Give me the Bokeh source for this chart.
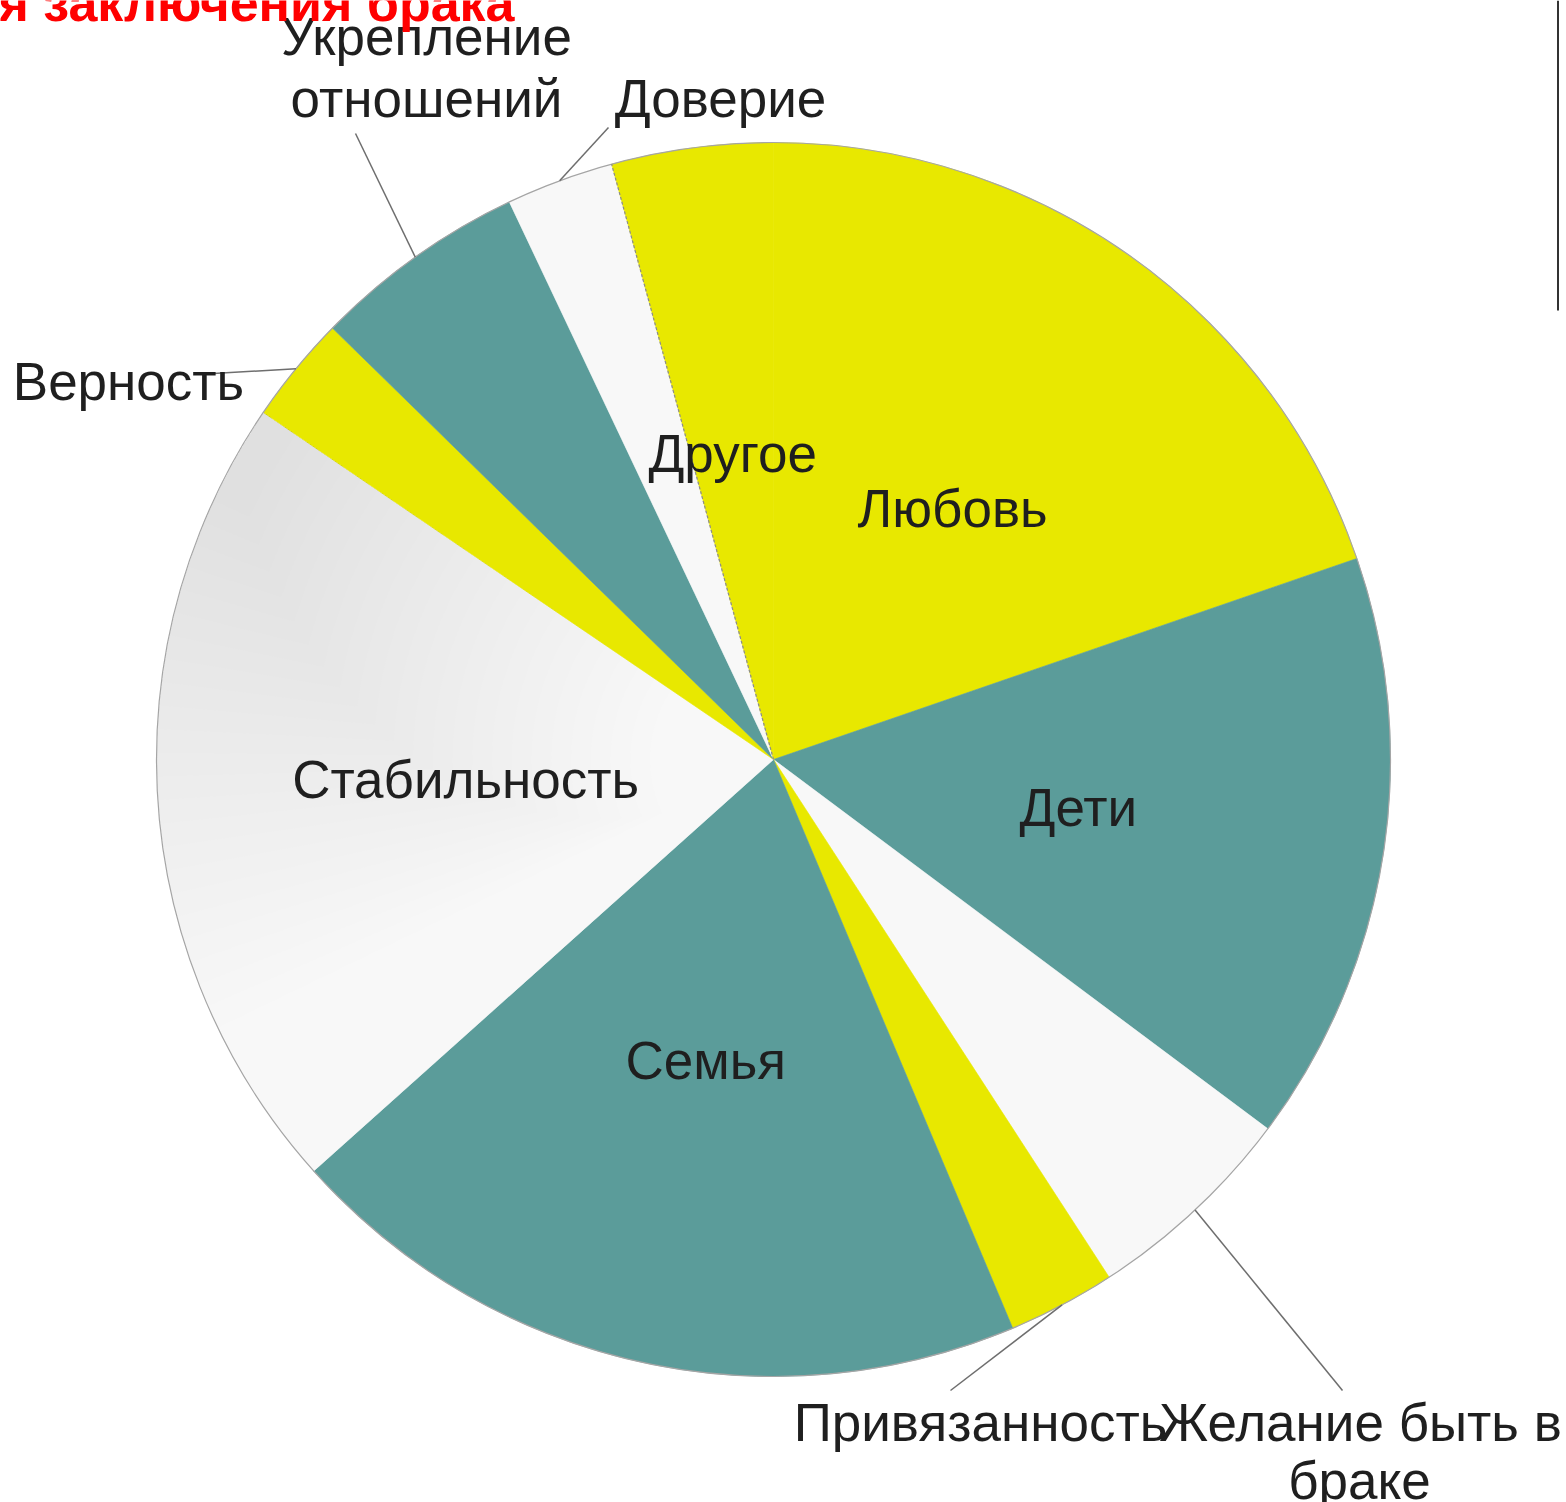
import math
from bokeh.plotting import figure
from bokeh.models import Range1d, ColumnDataSource
from bokeh.core.properties import value
from bokeh.embed import file_html
from bokeh.resources import INLINE

# ---------------- data ----------------
categories = ["Любовь", "Дети", "Желание быть в браке", "Привязанность", "Семья",
              "Стабильность", "Верность", "Укрепление отношений", "Доверие", "Другое"]
values = [14, 11, 4, 2, 14, 15, 2, 4, 2, 3]
title_text = "я заключения брака"

# ---------------- style / layout ----------------
palette = ["#E8E800", "#5B9C9A", "#F8F8F8"]   # yellow, teal, white (cycled)
FONT = value("Liberation Sans")
W, H = 1566, 1502
def Y(sy):            # screen y -> data y
    return H - sy

CX, CY = 773, Y(759)
R = 617
FS = "53px"
YOFF = -19            # text rendering correction (px)

# labels drawn inside the slice (at half radius along the mid angle)
inside = {"Любовь", "Дети", "Семья", "Стабильность", "Другое"}
# outside labels: list of (text line, x centre, baseline screen y)
outside_labels = {
    "Желание быть в браке": [("Желание быть в", 1360, 1441), ("браке", 1359, 1499)],
    "Привязанность": [("Привязанность", 980, 1441)],
    "Верность": [("Верность", 128, 400)],
    "Укрепление отношений": [("Укрепление", 426, 55), ("отношений", 426, 117)],
    "Доверие": [("Доверие", 720, 117)],
}
# leader line end points (screen coords)
leader_end = {
    "Желание быть в браке": (1342, 1390),
    "Привязанность": (950, 1390),
    "Верность": (213, 373),
    "Укрепление отношений": (355, 133),
    "Доверие": (608, 127),
}

# ---------------- geometry from data ----------------
total = float(sum(values))
starts, ends, mids = [], [], []
acc = 0.0
for v in values:
    a1 = acc / total * 360.0
    acc += v
    a2 = acc / total * 360.0
    starts.append(math.radians(90 - a1))
    ends.append(math.radians(90 - a2))
    mids.append((a1 + a2) / 2.0)
fills = [palette[i % 3] for i in range(len(values))]

src = ColumnDataSource(dict(cat=categories, val=values, start=starts, end=ends, fill=fills))

p = figure(width=W, height=H, output_backend="svg", toolbar_location=None,
           x_range=Range1d(0, W), y_range=Range1d(0, H),
           min_border=0, tools="")
p.axis.visible = False
p.grid.visible = False
p.outline_line_color = None
p.background_fill_color = "white"
p.border_fill_color = "white"

p.wedge(x=CX, y=CY, radius=R, start_angle="start", end_angle="end", direction="clock",
        fill_color="fill", line_color="fill", line_width=0.6, source=src)

# smooth shading on the large white slice (outer upper corner greyer)
i_st = categories.index("Стабильность")
a_top = sum(values[:i_st + 1]) / total * 360.0
for k in range(24):
    span = 60.0 - 2.2 * k
    p.annular_wedge(x=CX, y=CY, inner_radius=R * (0.20 + 0.032 * k), outer_radius=R - 0.5,
                    start_angle=math.radians(90 - a_top),
                    end_angle=math.radians(90 - a_top + span), direction="anticlock",
                    fill_color="#9a9a9a", fill_alpha=0.012, line_color=None)

# outer outline
p.circle(x=[CX], y=[CY], radius=R, fill_color=None, line_color="#a5a5a5", line_width=1.2)

# dashed boundary between Доверие and Другое
i_d = categories.index("Другое")
a = math.radians(sum(values[:i_d]) / total * 360.0)
p.segment(x0=[CX], y0=[CY], x1=[CX + R * math.sin(a)], y1=[CY + R * math.cos(a)],
          line_color="#8c8c8c", line_width=1.2, line_dash="3 2")

# inside labels
ix, iy, it = [], [], []
for c, m in zip(categories, mids):
    if c in inside:
        am = math.radians(m)
        ix.append(CX + 0.5 * R * math.sin(am))
        iy.append(CY + 0.5 * R * math.cos(am))
        it.append(c)
p.text(x=ix, y=iy, text=it, text_font=FONT, text_font_size=FS, text_color="#1f1f1f",
       text_align="center", text_baseline="alphabetic", y_offset=19 + YOFF)

# leader lines + outside labels
lx0, ly0, lx1, ly1 = [], [], [], []
ox, oy, ot = [], [], []
for c, m in zip(categories, mids):
    if c in outside_labels:
        am = math.radians(m)
        lx0.append(CX + R * math.sin(am))
        ly0.append(CY + R * math.cos(am))
        ex, ey = leader_end[c]
        lx1.append(ex)
        ly1.append(Y(ey))
        for t, tx, ty in outside_labels[c]:
            ox.append(tx); oy.append(Y(ty)); ot.append(t)
p.segment(x0=lx0, y0=ly0, x1=lx1, y1=ly1, line_color="#6e6e6e", line_width=1.5)
p.text(x=ox, y=oy, text=ot, text_font=FONT, text_font_size=FS, text_color="#1f1f1f",
       text_align="center", text_baseline="alphabetic", y_offset=YOFF)

# cut-off red title
p.text(x=[-2], y=[Y(21)], text=[title_text], text_font=FONT, text_font_style="bold",
       text_font_size="52px", text_color="#FF0000", text_align="left", text_baseline="alphabetic",
       y_offset=YOFF)

# vertical rule on the right
p.segment(x0=[1557.5], y0=[Y(0)], x1=[1557.5], y1=[Y(310)], line_color="#333333", line_width=2)

open("out.html", "w").write(file_html(p, INLINE))
